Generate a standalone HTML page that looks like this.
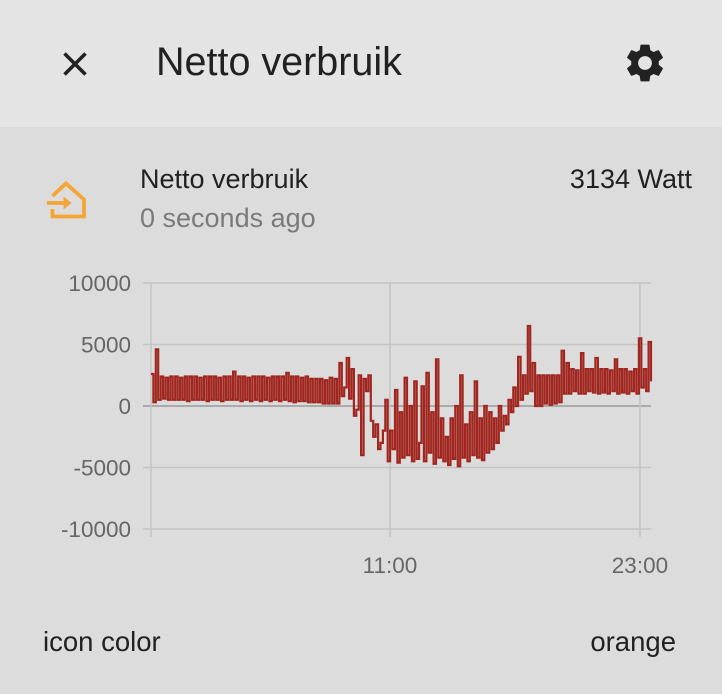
<!DOCTYPE html>
<html><head><meta charset="utf-8"><style>
body{margin:0;width:722px;height:694px;background:#dcdcdc;font-family:"Liberation Sans",sans-serif;overflow:hidden;position:relative}
.hdr{position:absolute;left:0;top:0;width:722px;height:127px;background:#e4e4e4}
.t{position:absolute;white-space:nowrap}
</style></head><body>
<div class="hdr"></div>
<svg class="t" style="left:57px;top:46px" width="36" height="36" viewBox="0 0 24 24"><path d="M5 5L19 19M19 5L5 19" stroke="#222" stroke-width="2.4"/></svg>
<div class="t" style="left:156px;top:40px;font-size:39.5px;color:#212121">Netto verbruik</div>
<svg class="t" style="left:622px;top:40px" width="46" height="46" viewBox="0 0 24 24"><path fill="#222" d="M19.14 12.94c.04-.3.06-.61.06-.94s-.02-.64-.07-.94l2.030-1.58a.49.49 0 0 0 .12-.61l-1.92-3.32a.49.49 0 0 0-.59-.22l-2.39.96c-.5-.38-1.03-.7-1.62-.94l-.36-2.54a.48.48 0 0 0-.48-.41h-3.840c-.24 0-.43.17-.47.41l-.36 2.54c-.59.24-1.13.57-1.62.94l-2.39-.96a.48.48 0 0 0-.59.22L2.74 8.87c-.12.21-.08.47.12.61l2.03 1.58c-.05.3-.09.63-.09.94s.02.64.07.94l-2.03 1.58a.49.49 0 0 0-.12.61l1.92 3.32c.12.22.37.29.59.22l2.39-.96c.5.38 1.030.7 1.62.94l.36 2.54c.05.24.24.41.48.41h3.84c.24 0 .44-.17.47-.41l.36-2.54c.59-.24 1.13-.56 1.62-.94l2.39.96c.22.08.47 0 .59-.22l1.92-3.32c.12-.22.07-.47-.12-.61l-2.01-1.58zM12 15.6A3.6 3.6 0 1 1 12 8.4a3.6 3.6 0 0 1 0 7.2z"/></svg>
<svg class="t" style="left:40px;top:175px" width="52" height="50" viewBox="40 175 52 50"><path d="M52.5 196L66 183.5L84 199.5V216.5H52.5V209M47 203H65" fill="none" stroke="#f4a535" stroke-width="3.8"/><path d="M63.5 196.5L71.5 203L63.5 209.5Z" fill="#f4a535"/></svg>
<div class="t" style="left:140px;top:164px;font-size:27px;color:#212121">Netto verbruik</div>
<div class="t" style="left:140px;top:203px;font-size:27px;color:#7a7a7a">0 seconds ago</div>
<div class="t" style="right:30px;top:164px;font-size:27px;color:#212121">3134 Watt</div>
<svg id="chart" class="t" style="left:0;top:260px" width="722" height="330"></svg>
<div class="t" style="left:43px;top:626px;font-size:27.5px;color:#212121">icon color</div>
<div class="t" style="right:46px;top:626px;font-size:27.5px;color:#212121">orange</div>
<script>
const yTicks=[10000,5000,0,-5000,-10000];
const yTickLabels=["10000","5000","0","-5000","-10000"];
const xTicks=[11,23];
const xTickLabels=["11:00","23:00"];
const startHour=-0.47, endHour=23.53;
const values=[2600,300,4600,500,
2400,600,2300,500,2400,500,2400,500,2300,500,2400,400,2400,500,2400,500,2300,500,2400,400,2400,500,2400,500,2300,400,2400,500,2400,500,2800,500,2400,400,2400,500,2300,400,2400,500,2400,400,2400,500,2300,400,2400,500,2400,400,2400,500,2700,400,2400,300,2400,400,2300,400,2400,300,2200,300,2200,300,2200,200,2100,200,2300,200,2200,200,
3500,800,1500,3900,600,3000,-800,-300,2500,-4000,2200,1200,2500,-1200,-2500,-1500,-3500,-3000,-2000,
500,-4500,-2000,-3500,1300,-4600,-500,-4200,2300,-4000,0,-4500,2000,-4300,-3000,1600,-4500,2700,-3800,-500,-4700,3800,-4200,-1000,-4500,-2500,-4800,-1000,-4300,0,-4900,2500,
-4200,-1500,-4500,-500,-4000,2000,-4200,-1000,-4400,0,-3800,-500,-3500,-1000,-3000,0,-2000,-800,
-1500,500,-500,1500,0,4000,500,2500,1000,6500,1200,3500,
0,2500,0,2500,200,2500,100,2500,200,2500,300,4500,
1000,3500,1000,3000,1200,2900,1000,4300,1000,3000,1200,3000,1100,3900,1000,3000,1100,3000,1000,2900,1200,3800,1000,3000,1100,3000,1000,2800,1200,3000,1000,5500,1500,3000,1200,5200,2000];
const svg=document.getElementById('chart');
const NS='http://www.w3.org/2000/svg';
const X0=151,X1=651,OY=260;
const yS=v=>406-OY-v*61.5/5000;
const xS=h=>X0+(h-startHour)/(endHour-startHour)*(X1-X0);
function mk(t,a){const e=document.createElementNS(NS,t);for(const k in a)e.setAttribute(k,a[k]);svg.appendChild(e);return e;}
yTicks.forEach((v,i)=>{
 const g=mk('line',{x1:X0-8,x2:X1,y1:yS(v),y2:yS(v),stroke:v===0?'#aaa':'#c4c4c4','stroke-width':v===0?2:1.5});
 
 
 const t=mk('text',{x:131,y:yS(v)+8,'text-anchor':'end','font-size':22.5,fill:'#666'});
 t.textContent=yTickLabels[i];
 
 
});
const vl=mk('line',{x1:X0,x2:X0,y1:yS(10000),y2:yS(-10000)+8,stroke:'#c4c4c4','stroke-width':1.5});


xTicks.forEach((h,i)=>{
 const g=mk('line',{x1:xS(h),x2:xS(h),y1:yS(10000),y2:yS(-10000)+8,stroke:'#c4c4c4','stroke-width':1.5});
 
 
 const t=mk('text',{x:xS(h),y:313,'text-anchor':'middle','font-size':22.5,fill:'#666'});
 t.textContent=xTickLabels[i];
 
 
});
const n=values.length;
let pts=[];
values.forEach((v,i)=>{
 const x=xS(startHour+i*(endHour-startHour)/(n-1));
 if(i>0)pts.push(x.toFixed(1)+','+yS(values[i-1]).toFixed(1));
 pts.push(x.toFixed(1)+','+yS(v).toFixed(1));
});
const pl=mk('polyline',{points:pts.join(' '),fill:'none',stroke:'#a0261f','stroke-width':2.2,'stroke-linejoin':'miter'});


</script>
</body></html>
